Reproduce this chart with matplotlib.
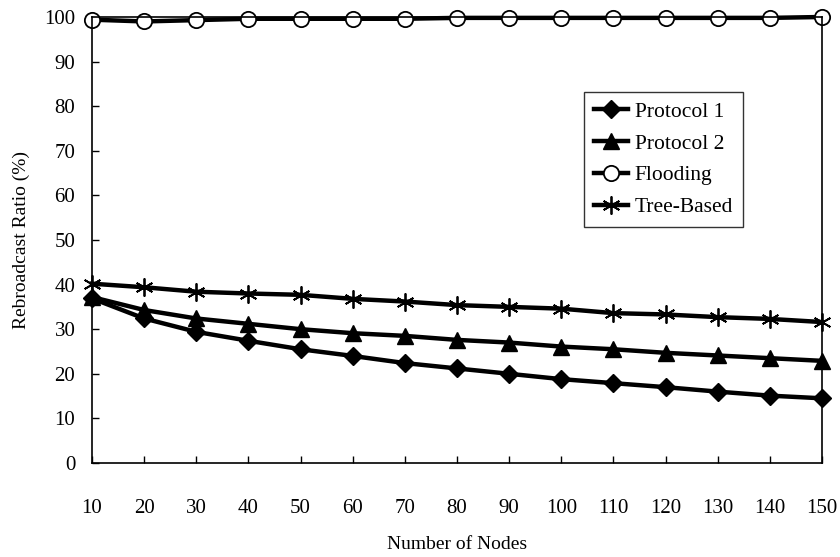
import matplotlib
matplotlib.use("Agg")
import matplotlib.pyplot as plt
from matplotlib.ticker import MultipleLocator

nodes = [10, 20, 30, 40, 50, 60, 70, 80, 90, 100, 110, 120, 130, 140, 150]
protocol1 = [36.9, 32.4, 29.4, 27.4, 25.5, 24.0, 22.4, 21.2, 20.0, 18.8, 17.9, 17.0, 16.0, 15.1, 14.5]
protocol2 = [37.2, 34.3, 32.4, 31.2, 30.0, 29.1, 28.5, 27.6, 27.0, 26.1, 25.5, 24.7, 24.1, 23.5, 22.9]
flooding = [99.4, 99.0, 99.3, 99.6, 99.6, 99.6, 99.6, 99.8, 99.8, 99.8, 99.8, 99.8, 99.8, 99.8, 100.0]
tree_based = [40.2, 39.4, 38.4, 38.0, 37.7, 36.8, 36.2, 35.4, 35.0, 34.6, 33.6, 33.3, 32.7, 32.3, 31.6]

plt.rcParams["font.family"] = ["Liberation Serif", "DejaVu Serif"]

fig = plt.figure(figsize=(8.4, 5.57), dpi=100)
ax = fig.add_axes([0.1095, 0.1688, 0.869, 0.8007])

lw = 3.2
ax.plot(nodes, protocol1, color="black", lw=lw, marker="D", ms=9, label="Protocol 1", clip_on=False)
ax.plot(nodes, protocol2, color="black", lw=lw, marker="^", ms=11, label="Protocol 2", clip_on=False)
ax.plot(nodes, flooding, color="black", lw=lw, marker="o", ms=11, mfc="white", mew=1.3,
        label="Flooding", clip_on=False)
ax.plot(nodes, tree_based, color="black", lw=lw, marker=(6, 2, 0), ms=13, mew=1.3,
        label="Tree-Based", clip_on=False)

ax.set_xlim(10, 150)
ax.set_ylim(0, 100)
ax.set_xticks(nodes)
ax.yaxis.set_major_locator(MultipleLocator(10))
ax.tick_params(axis="x", direction="in", length=5, width=1, pad=26, labelsize=15)
ax.tick_params(axis="y", direction="in", length=5, width=1, pad=12, labelsize=15)
for s in ax.spines.values():
    s.set_linewidth(1.2)

ax.set_xlabel("Number of Nodes", fontsize=14, labelpad=13)
ax.set_ylabel("Rebroadcast Ratio (%)", fontsize=14, labelpad=10)

leg = ax.legend(loc="upper left", bbox_to_anchor=(0.674, 0.832), fontsize=15.5,
                frameon=True, fancybox=False, edgecolor="black", handlelength=1.6,
                handletextpad=0.3, borderpad=0.45, labelspacing=0.55, borderaxespad=0)
leg.get_frame().set_linewidth(1.0)

fig.savefig("out.png", dpi=100)
